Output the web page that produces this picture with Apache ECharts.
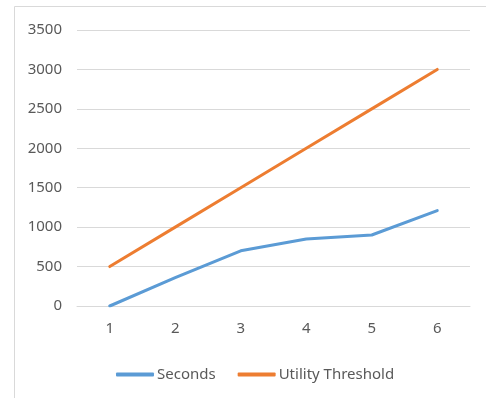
<!DOCTYPE html>
<html><head><meta charset="utf-8">
<script src="https://cdn.jsdelivr.net/npm/echarts@6/dist/echarts.min.js"></script>
<style>html,body{margin:0;padding:0;background:#fff}#c{width:486px;height:398px}</style>
</head><body><div id="c"></div>
<script>
const categories = ['1','2','3','4','5','6'];
const seconds = [0, 360, 700, 850, 900, 1210];
const utilityThreshold = [500, 1000, 1500, 2000, 2500, 3000];
const seriesNames = ['Seconds', 'Utility Threshold'];
const yTicks = {min: 0, max: 3500, interval: 500};

const chart = echarts.init(document.getElementById('c'), null, {renderer: 'canvas'});
const font = '"Noto Sans", "Open Sans", sans-serif';
chart.setOption({
  animation: false,
  graphic: [{type: 'rect', shape: {x: 14.5, y: 6.5, width: 500, height: 420}, style: {fill: 'none', stroke: '#D9D9D9', lineWidth: 1}, silent: true}],
  grid: {left: 77, right: 16, top: 30, bottom: 92},
  legend: {
    data: seriesNames, top: 362, left: 111, itemWidth: 38, itemHeight: 4, itemGap: 22,
    icon: 'roundRect',
    textStyle: {color: '#595959', fontSize: 15, fontFamily: font, padding: [0, 0, 0, -2]}
  },
  xAxis: {
    type: 'category', data: categories, boundaryGap: true,
    axisLine: {show: true, lineStyle: {color: '#D9D9D9', width: 1}},
    axisTick: {show: false},
    axisLabel: {color: '#595959', fontSize: 15, fontFamily: font, margin: 15}
  },
  yAxis: {
    type: 'value', min: yTicks.min, max: yTicks.max, interval: yTicks.interval,
    axisLine: {show: false}, axisTick: {show: false},
    splitLine: {lineStyle: {color: '#D9D9D9', width: 1}},
    axisLabel: {color: '#595959', fontSize: 15, fontFamily: font, margin: 15, formatter: v => String(v)}
  },
  series: [
    {name: seriesNames[0], type: 'line', data: seconds, showSymbol: false, symbol: 'none',
     lineStyle: {color: '#5B9BD5', width: 3, cap: 'round', join: 'round'}, itemStyle: {color: '#5B9BD5'}},
    {name: seriesNames[1], type: 'line', data: utilityThreshold, showSymbol: false, symbol: 'none',
     lineStyle: {color: '#ED7D31', width: 3, cap: 'round', join: 'round'}, itemStyle: {color: '#ED7D31'}}
  ]
});
</script></body></html>
